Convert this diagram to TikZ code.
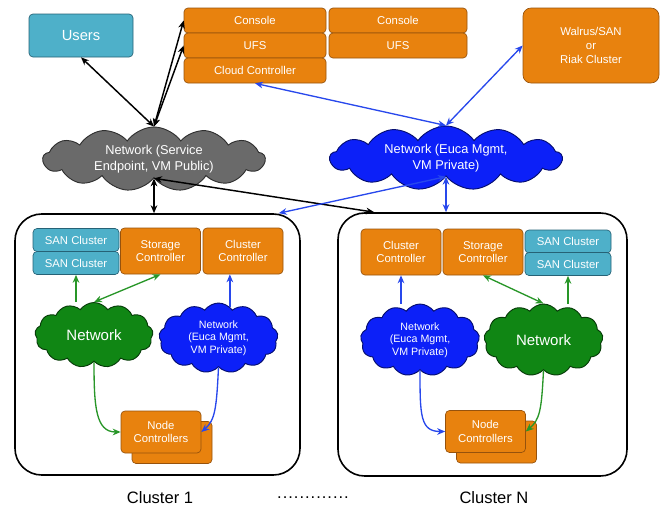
\documentclass[tikz,border=0pt]{standalone}
\usepackage{fontspec}
\setmainfont{Liberation Sans}
\usetikzlibrary{shapes.symbols, arrows.meta, calc}

\definecolor{eorange}{RGB}{232,130,14}
\definecolor{eorangedark}{RGB}{150,82,12}
\definecolor{eteal}{RGB}{78,176,201}
\definecolor{etealdark}{RGB}{38,98,118}
\definecolor{egray}{RGB}{106,106,106}
\definecolor{eblue}{RGB}{12,32,248}
\definecolor{egreen}{RGB}{16,134,20}
\definecolor{lblue}{RGB}{40,72,236}
\definecolor{lgreen}{RGB}{40,150,40}

\tikzset{
  obox/.style={draw=eorangedark, fill=eorange, rounded corners=3pt, text=white, align=center,
    inner sep=0pt, line width=0.5pt, font=\fontsize{8.5}{10.3}\selectfont},
  tbox/.style={obox, draw=etealdark, fill=eteal},
  net/.style={cloud, cloud puffs=13, cloud puff arc=110, cloud ignores aspect, draw=#1!45!black,
    fill=#1, text=white, align=center, inner sep=0pt, line width=0.7pt},
  clus/.style={draw, line width=1.2pt, rounded corners=20pt},
  blink/.style={lblue, line width=1pt},
  glink/.style={lgreen, line width=1pt},
  klink/.style={black, line width=1.1pt},
  >={Stealth[length=6pt,width=5pt]}
}

\begin{document}
\begin{tikzpicture}[x=0.75pt,y=0.75pt,yscale=-1,xscale=1]
\useasboundingbox (0,0) rectangle (660,508);

%Shape: top row boxes
\node [tbox, minimum width=78pt, minimum height=32.25pt, font=\fontsize{11}{13}\selectfont] (users) at (81,35.5) {Users};
\node [obox, minimum width=106.5pt, minimum height=18.75pt] (con1) at (255,20.5) {Console};
\node [obox, minimum width=106.5pt, minimum height=18.75pt] (ufs1) at (255,45.5) {UFS};
\node [obox, minimum width=106.5pt, minimum height=18.75pt] (cloudc) at (255,70.5) {Cloud Controller};
\node [obox, minimum width=103.5pt, minimum height=18.75pt] (con2) at (398,20.5) {Console};
\node [obox, minimum width=103.5pt, minimum height=18.75pt] (ufs2) at (398,45.5) {UFS};
\node [obox, rounded corners=6pt, minimum width=102pt, minimum height=56.25pt, font=\fontsize{8.5}{10.5}\selectfont] (walrus) at (591,45.5) {Walrus/SAN\\or\\Riak Cluster};

%Shape: main networks
\node [net=egray, minimum width=166.5pt, minimum height=48pt, font=\fontsize{9.6}{12}\selectfont] (pubnet) at (154,159) {Network (Service\\Endpoint, VM Public)};
\node [net=eblue, minimum width=174pt, minimum height=48pt, font=\fontsize{9.6}{12}\selectfont] (privnet) at (446,158) {Network (Euca Mgmt,\\VM Private)};

%Shape: clusters
\node [clus, minimum width=213.75pt, minimum height=195.75pt] (clus1) at (157.5,344.5) {};
\node [clus, minimum width=216.75pt, minimum height=197.25pt] (clusN) at (482.5,344.5) {};

%Shape: cluster 1 inside
\node [tbox, minimum width=64.5pt, minimum height=17.25pt] (san1a) at (76,240) {SAN Cluster};
\node [tbox, minimum width=64.5pt, minimum height=17.25pt] (san1b) at (76,263) {SAN Cluster};
\node [obox, minimum width=60pt, minimum height=34.5pt] (stor1) at (160.5,251) {Storage\\Controller};
\node [obox, minimum width=60pt, minimum height=34.5pt] (cc1) at (243,251) {Cluster\\Controller};
\node [net=egreen, minimum width=88.5pt, minimum height=48.75pt, font=\fontsize{11.25}{13}\selectfont] (gnet1) at (94,335) {Network};
\node [net=eblue, minimum width=89.25pt, minimum height=52.5pt, font=\fontsize{8}{9.4}\selectfont] (bnet1) at (218.5,338) {Network\\(Euca Mgmt,\\VM Private)};
\node [obox, minimum width=60pt, minimum height=31.5pt] (nc1b) at (172,442.5) {};
\node [obox, minimum width=60pt, minimum height=31.5pt] (nc1) at (161,432) {Node\\Controllers};

%Shape: cluster N inside
\node [obox, minimum width=60pt, minimum height=34.5pt] (ccN) at (401,252) {Cluster\\Controller};
\node [obox, minimum width=60pt, minimum height=34.5pt] (storN) at (483,252) {Storage\\Controller};
\node [tbox, minimum width=64.5pt, minimum height=17.25pt] (sanNa) at (568,241.5) {SAN Cluster};
\node [tbox, minimum width=64.5pt, minimum height=17.25pt] (sanNb) at (568,264) {SAN Cluster};
\node [net=eblue, minimum width=89.25pt, minimum height=54pt, font=\fontsize{8}{9.4}\selectfont] (bnetN) at (420,340) {Network\\(Euca Mgmt,\\VM Private)};
\node [net=egreen, minimum width=89.25pt, minimum height=54pt, font=\fontsize{11.25}{13}\selectfont] (gnetN) at (543.5,340) {Network};
\node [obox, minimum width=60pt, minimum height=31.5pt] (ncNb) at (496.5,442) {};
\node [obox, minimum width=60pt, minimum height=31.5pt] (ncN) at (485.5,431.5) {Node\\Controllers};

% Text Node
\node [font=\fontsize{12.4}{14}\selectfont] (lab1) at (160,498) {Cluster 1};
\node [font=\fontsize{12.4}{14}\selectfont] (dots) at (313,498) {\addfontfeatures{LetterSpace=6}.............};
\node [font=\fontsize{12.4}{14}\selectfont] (labN) at (494,498) {Cluster N};

%Lines: top level
\draw [klink, <->] (pubnet.north) -- (users.south);
\draw [klink, <->] (pubnet.north) -- (con1.west);
\draw [klink, <->] (pubnet.north) -- (ufs1.west);
\draw [klink, <->] (pubnet.south) -- (pubnet.south |- clus1.north);
\draw [klink, <->] (pubnet.south) -- ($(clusN.north west)+(37,0)$);
\draw [blink, <->] (privnet.north) -- (cloudc.south);
\draw [blink, <->] (privnet.north) -- (walrus.west);
\draw [blink, <->] (privnet.south) -- (privnet.south |- clusN.north);
\draw [blink, <->] (privnet.south) -- ($(clus1.north east)+(-22,0)$);

%Lines: cluster 1
\draw [glink, ->] (san1b.south |- gnet1.north) -- (san1b.south);
\draw [glink, <->] (gnet1.north) -- (stor1.south);
\draw [blink, ->] (bnet1.70) -- (cc1.south -| bnet1.70);
\draw [glink, ->] (gnet1.south) .. controls +(0,45) and +(-25,0) .. (nc1.west);
\draw [blink, ->] (bnet1.south) .. controls +(-2,40) and +(14,-12) .. (nc1.east);

%Lines: cluster N
\draw [blink, ->] (ccN.south |- bnetN.north) -- (ccN.south);
\draw [glink, <->] (gnetN.north) -- (storN.south);
\draw [glink, ->] (sanNb.south |- gnetN.north) -- (sanNb.south);
\draw [blink, ->] (bnetN.south) .. controls +(0,45) and +(-25,0) .. (ncN.west);
\draw [glink, ->] (gnetN.south) .. controls +(-2,40) and +(14,-12) .. (ncN.east);

\end{tikzpicture}
\end{document}
